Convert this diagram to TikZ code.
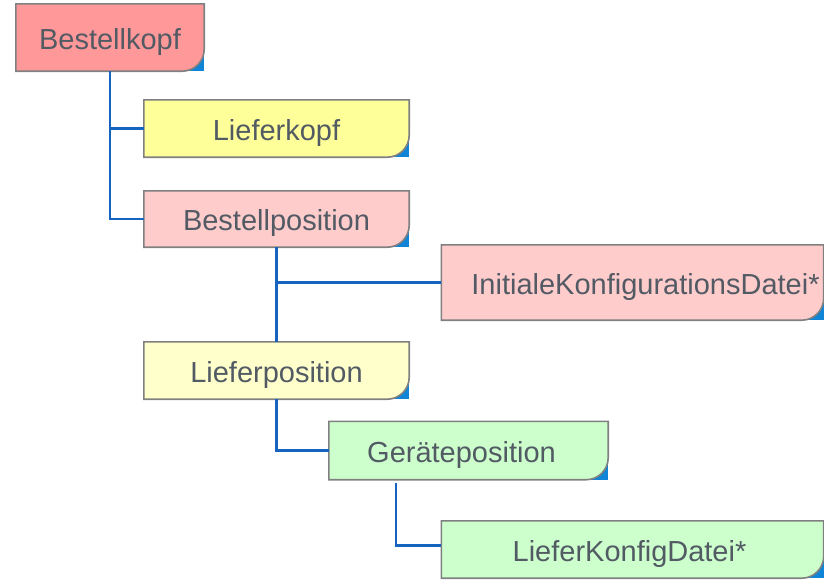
\documentclass[tikz,border=0pt]{standalone}
\usepackage{fontspec}
\setmainfont{Liberation Sans}
\usetikzlibrary{calc}
\pgfdeclarelayer{background}
\pgfsetlayers{background,main}

\definecolor{txt}{RGB}{82,90,100}
\definecolor{edge}{RGB}{128,128,128}
\definecolor{link}{RGB}{21,101,192}
\definecolor{tab}{RGB}{16,132,214}
\definecolor{redA}{RGB}{255,153,153}
\definecolor{redB}{RGB}{255,204,204}
\definecolor{yelA}{RGB}{255,255,153}
\definecolor{yelB}{RGB}{255,255,204}
\definecolor{grnB}{RGB}{204,255,204}

\tikzset{
  entity/.style={rectangle, inner sep=0pt, draw=none, text=txt,
    text height=23pt, text depth=0pt,
    font=\fontsize{29}{32}\selectfont},
  connector/.style={draw=link, line width=2.4pt},
  outline/.style={draw=edge, line width=1.6pt},
}

% box with a single rounded lower-right corner and a blue tab behind it
\newcommand\entitybox[2]{%
  \begin{pgfonlayer}{background}
    \fill[tab] ($(#1.south east)+(-22,0)$) rectangle ($(#1.south east)+(0,22)$);
    \filldraw[outline, fill=#2] (#1.south west) -- (#1.north west) -- (#1.north east)
      -- ($(#1.south east)+(0,22)$) arc[start angle=0, end angle=-90, radius=22]
      -- cycle;
  \end{pgfonlayer}}

\begin{document}
\begin{tikzpicture}[x=1pt, y=1pt]
  \useasboundingbox (0,0) rectangle (824,-579);

  \node[entity, minimum width=188, minimum height=67] (kopf) at (110,-37.5) {Bestellkopf};
  \node[entity, minimum width=265, minimum height=57] (lkopf) at (276.5,-128.5) {Lieferkopf};
  \node[entity, minimum width=265, minimum height=56] (bpos) at (276.5,-219) {Bestellposition};
  \node[entity, minimum width=382, minimum height=75] (init) at (632.5,-282.5) {\hspace*{26pt}InitialeKonfigurationsDatei*};
  \node[entity, minimum width=279, minimum height=58] (gpos) at (468.5,-450.5) {Geräteposition\hspace*{14pt}};
  \node[entity, minimum width=265, minimum height=57] (lpos) at (276.5,-370.5) {Lieferposition};
  \node[entity, minimum width=382, minimum height=57] (lkd) at (632.5,-549.5) {LieferKonfigDatei*\hspace*{6pt}};

  \entitybox{kopf}{redA}
  \entitybox{lkopf}{yelA}
  \entitybox{bpos}{redB}
  \entitybox{init}{redB}
  \entitybox{lpos}{yelB}
  \entitybox{gpos}{grnB}
  \entitybox{lkd}{grnB}

  % hierarchy connectors
  \coordinate (k0) at ($(kopf.south west)+(94,0)$);
  \draw[connector] (k0) |- (lkopf.west);
  \draw[connector] (k0) |- (bpos.west);
  \draw[connector] (bpos.south) -- (lpos.north);
  \draw[connector] (bpos.south |- init.west) -- (init.west);
  \draw[connector] (lpos.south) |- (gpos.west);
  \coordinate (g0) at ($(gpos.south west)+(67,-3)$);
  \draw[connector] (g0) |- ($(lkd.west)+(0,4)$);
\end{tikzpicture}
\end{document}
